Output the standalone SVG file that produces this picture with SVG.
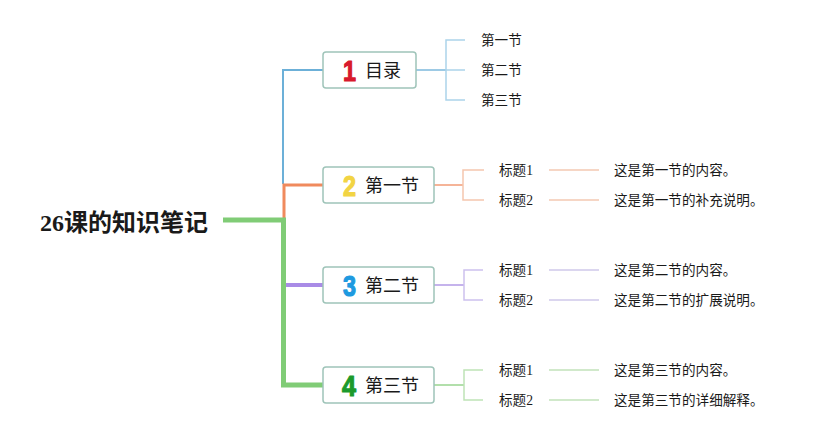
<svg xmlns="http://www.w3.org/2000/svg" width="828" height="440" viewBox="0 0 828 440">
<style>
.box{fill:#fff;stroke:#9fc4b9;stroke-width:1.5}
.t{font-family:"Liberation Serif","Noto Sans CJK SC",sans-serif;fill:#1a1a1a}
.cjk{font-family:"Noto Sans CJK SC",sans-serif;fill:#1a1a1a}
.num{font-family:"Liberation Sans","Noto Sans",sans-serif;font-weight:bold;font-size:30px;stroke-width:1.2;stroke-linejoin:round}
.bt{font-size:18px}
.st{font-size:13.6px}
path{fill:none}
</style>
<rect width="828" height="440" fill="#fff"/>
<g id="connectors">
  <path d="M323,70 H283 V184" stroke="#6cb0d8" stroke-width="2"/>
  <path d="M323,185 H284 V220" stroke="#f08a5d" stroke-width="3"/>
  <path d="M323,285 H285" stroke="#a98be6" stroke-width="4"/>
  <path d="M223,220 H283.5 V385 H323" stroke="#80cc76" stroke-width="5"/>
  <path d="M416,70 H446" stroke="#7db9dc" stroke-width="1.5"/>
  <path d="M465,40 H446 V100 H465 M446,70 H465" stroke="#acd4ea" stroke-width="1.5"/>
  <path d="M434,185 H463" stroke="#f29b76" stroke-width="1.5"/>
  <path d="M484,170 H463 V200 H484" stroke="#f5c6ae" stroke-width="1.5"/>
  <path d="M549,170 H599 M549,200 H599" stroke="#f3c9b3" stroke-width="1.5"/>
  <path d="M434,285 H464" stroke="#b29ae6" stroke-width="1.5"/>
  <path d="M483,270 H464 V300 H483" stroke="#cdc1ee" stroke-width="1.5"/>
  <path d="M549,270 H599 M549,300 H599" stroke="#cfc9ea" stroke-width="1.5"/>
  <path d="M434,385 H464" stroke="#99d58f" stroke-width="1.5"/>
  <path d="M483,370 H464 V400 H483" stroke="#bfe3b6" stroke-width="1.5"/>
  <path d="M549,370 H599 M549,400 H599" stroke="#c2e2bb" stroke-width="1.5"/>
</g>
<g id="root">
  <text x="40" y="231" class="t" font-size="24" font-weight="bold" fill="#111">26课的知识笔记</text>
</g>
<g id="node1">
  <rect class="box" x="323" y="52" width="93" height="36" rx="3"/>
  <text x="343" y="81" class="num" fill="#d8192c" stroke="#d8192c" textLength="13" lengthAdjust="spacingAndGlyphs">1</text>
  <text x="365" y="77" class="cjk bt">目录</text>
</g>
<g id="node2">
  <rect class="box" x="323" y="167" width="111" height="36" rx="3"/>
  <text x="343" y="196" class="num" fill="#f2d443" stroke="#f2d443" textLength="13" lengthAdjust="spacingAndGlyphs">2</text>
  <text x="365" y="192" class="cjk bt">第一节</text>
</g>
<g id="node3">
  <rect class="box" x="323" y="267" width="111" height="36" rx="3"/>
  <text x="343" y="296" class="num" fill="#1e9ae0" stroke="#1e9ae0" textLength="13" lengthAdjust="spacingAndGlyphs">3</text>
  <text x="365" y="292" class="cjk bt">第二节</text>
</g>
<g id="node4">
  <rect class="box" x="323" y="367" width="111" height="36" rx="3"/>
  <text x="342" y="396" class="num" fill="#1b9a2c" stroke="#1b9a2c" textLength="14" lengthAdjust="spacingAndGlyphs">4</text>
  <text x="365" y="392" class="cjk bt">第三节</text>
</g>
<g id="node1-subs">
  <text x="481" y="45" class="cjk st">第一节</text>
  <text x="481" y="75" class="cjk st">第二节</text>
  <text x="481" y="105" class="cjk st">第三节</text>
</g>
<g id="node2-subs">
  <text x="499" y="175" class="t st">标题1</text>
  <text x="499" y="205" class="t st">标题2</text>
  <text x="614" y="175" class="cjk st">这是第一节的内容。</text>
  <text x="614" y="205" class="cjk st">这是第一节的补充说明。</text>
</g>
<g id="node3-subs">
  <text x="499" y="275" class="t st">标题1</text>
  <text x="499" y="305" class="t st">标题2</text>
  <text x="614" y="275" class="cjk st">这是第二节的内容。</text>
  <text x="614" y="305" class="cjk st">这是第二节的扩展说明。</text>
</g>
<g id="node4-subs">
  <text x="499" y="375" class="t st">标题1</text>
  <text x="499" y="405" class="t st">标题2</text>
  <text x="614" y="375" class="cjk st">这是第三节的内容。</text>
  <text x="614" y="405" class="cjk st">这是第三节的详细解释。</text>
</g>
</svg>
